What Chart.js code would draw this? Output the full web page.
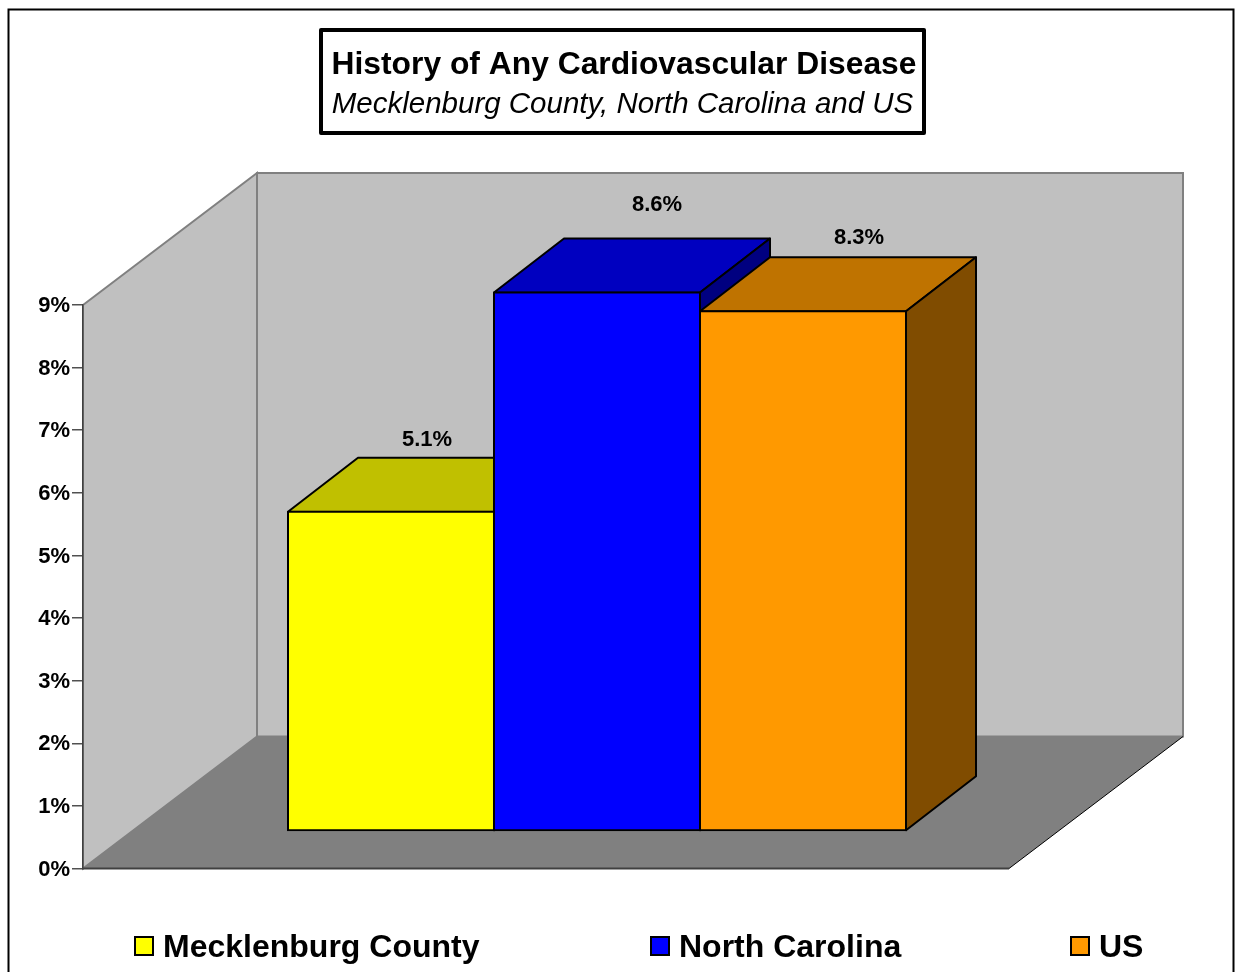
<!DOCTYPE html>
<html>
<head>
<meta charset="utf-8">
<title>History of Any Cardiovascular Disease</title>
<script src="https://cdn.jsdelivr.net/npm/chart.js@4/dist/chart.umd.js"></script>
<style>
  html, body { margin: 0; padding: 0; background: #fff; overflow: hidden; }
  #wrap { position: relative; width: 1236px; height: 972px; }
</style>
</head>
<body>
<div id="wrap"><canvas id="cvdChart" width="1236" height="972"></canvas></div>
<script>
// data
const categories = ['History of any CVD'];
const seriesNames = ['Mecklenburg County', 'North Carolina', 'US'];
const seriesValues = [5.1, 8.6, 8.3];
const seriesColors = ['#FFFF00', '#0000FF', '#FF9900'];
const topColors = ['#C0C000', '#0000C0', '#BF7300'];
const sideColors = ['#808000', '#000080', '#804C00'];
const yTicks = [0, 1, 2, 3, 4, 5, 6, 7, 8, 9];

const FONT = '"Liberation Sans", Arial, sans-serif';
const wallDepth = { x: 174, y: -132 };
const barShift = { x: 51, y: -37.5 };
const barDepth = { x: 70, y: -54 };
const labelShift = [{ x: 36, y: -72 }, { x: 60, y: -88 }, { x: 56, y: -73 }];

function poly(ctx, pts, fill, stroke, lw) {
    ctx.beginPath();
    pts.forEach((p, i) => i ? ctx.lineTo(p[0], p[1]) : ctx.moveTo(p[0], p[1]));
    ctx.closePath();
    if (fill) { ctx.fillStyle = fill; ctx.fill(); }
    if (stroke) { ctx.strokeStyle = stroke; ctx.lineWidth = lw; ctx.stroke(); }
}

// walls, floor and outer frame go behind the bars
const backdrop = {
    id: 'backdrop',
    beforeDatasetsDraw(chart) {
        const { ctx, chartArea: a } = chart;
        const dx = wallDepth.x, dy = wallDepth.y;
        ctx.save();
        poly(ctx, [[a.left + dx, a.top + dy], [a.right + dx, a.top + dy], [a.right + dx, a.bottom + dy], [a.left + dx, a.bottom + dy]], '#C0C0C0', '#808080', 2);
        poly(ctx, [[a.left, a.top], [a.left + dx, a.top + dy], [a.left + dx, a.bottom + dy], [a.left, a.bottom]], '#C0C0C0', '#808080', 2);
        poly(ctx, [[a.left, a.bottom], [a.left + dx, a.bottom + dy], [a.right + dx, a.bottom + dy], [a.right, a.bottom]], '#808080');
        ctx.strokeStyle = '#404040';
        ctx.lineWidth = 2;
        ctx.beginPath();
        ctx.moveTo(a.left, a.bottom);
        ctx.lineTo(a.right, a.bottom);
        ctx.stroke();
        ctx.strokeStyle = '#000';
        ctx.lineWidth = 1;
        ctx.beginPath();
        ctx.moveTo(a.right, a.bottom);
        ctx.lineTo(a.right + dx, a.bottom + dy);
        ctx.stroke();
        ctx.lineWidth = 2;
        ctx.strokeRect(8.5, 9.5, 1225, 1000);
        ctx.restore();
    }
};

// the tops and sides of the bars come from the bar elements themselves,
// the fronts are then drawn by the library, moved forward on the floor
const bars3d = {
    id: 'bars3d',
    beforeDatasetsDraw(chart) {
        const { ctx } = chart;
        const dx = barDepth.x, dy = barDepth.y;
        ctx.save();
        ctx.translate(barShift.x, barShift.y);
        ctx.lineJoin = 'round';
        chart.data.datasets.forEach((ds, i) => {
            const b = chart.getDatasetMeta(i).data[0];
            const l = b.x - b.width / 2, r = b.x + b.width / 2;
            poly(ctx, [[l, b.y], [l + dx, b.y + dy], [r + dx, b.y + dy], [r, b.y]], topColors[i], '#000', 2);
            poly(ctx, [[r, b.y], [r + dx, b.y + dy], [r + dx, b.base + dy], [r, b.base]], sideColors[i], '#000', 2);
        });
        ctx.restore();
        ctx.save();
        ctx.translate(barShift.x, barShift.y);
    },
    afterDatasetsDraw(chart) {
        const { ctx } = chart;
        ctx.restore();
        ctx.save();
        ctx.font = 'bold 22px ' + FONT;
        ctx.fillStyle = '#000';
        ctx.textAlign = 'center';
        ctx.textBaseline = 'middle';
        chart.data.datasets.forEach((ds, i) => {
            const b = chart.getDatasetMeta(i).data[0];
            ctx.fillText(ds.data[0].toFixed(1) + '%', b.x + barShift.x + labelShift[i].x, b.y + barShift.y + labelShift[i].y);
        });
        ctx.restore();
    }
};

const titleBox = {
    id: 'titleBox',
    afterDraw(chart) {
        const { ctx } = chart;
        ctx.save();
        ctx.lineJoin = 'round';
        ctx.strokeStyle = '#000';
        ctx.lineWidth = 4;
        ctx.strokeRect(321, 30, 603, 103);
        ctx.fillStyle = '#000';
        ctx.textAlign = 'center';
        ctx.textBaseline = 'middle';
        ctx.font = 'bold 31.8px ' + FONT;
        ctx.fillText('History of Any Cardiovascular Disease', 624, 65);
        ctx.font = 'italic 29.5px ' + FONT;
        ctx.fillText('Mecklenburg County, North Carolina and US', 622.5, 105);
        ctx.restore();
    }
};

const legendRow = {
    id: 'legendRow',
    afterDraw(chart) {
        const { ctx } = chart;
        const boxes = [135, 651, 1071];
        ctx.save();
        ctx.font = 'bold 32px ' + FONT;
        ctx.textBaseline = 'middle';
        seriesNames.forEach((name, i) => {
            ctx.fillStyle = seriesColors[i];
            ctx.fillRect(boxes[i], 937, 18, 18);
            ctx.strokeStyle = '#000';
            ctx.lineWidth = 2;
            ctx.strokeRect(boxes[i], 937, 18, 18);
            ctx.fillStyle = '#000';
            ctx.fillText(name, boxes[i] + 28, 948);
        });
        ctx.restore();
    }
};

new Chart(document.getElementById('cvdChart').getContext('2d'), {
    type: 'bar',
    data: {
        labels: categories,
        datasets: seriesNames.map((name, i) => ({
            label: name,
            data: [seriesValues[i]],
            backgroundColor: seriesColors[i],
            borderColor: '#000',
            borderWidth: 2,
            borderSkipped: false,
            inflateAmount: 1,
            clip: false,
            barPercentage: 1,
            categoryPercentage: 0.6674
        }))
    },
    options: {
        responsive: false,
        animation: false,
        layout: { padding: { left: 0, top: 305, right: 227, bottom: 103.5 } },
        plugins: { legend: { display: false }, title: { display: false }, tooltip: { enabled: false } },
        scales: {
            x: { display: false },
            y: {
                min: 0,
                max: 9,
                afterFit(scale) { scale.width = 83; },
                afterBuildTicks(scale) { scale.ticks = yTicks.map(v => ({ value: v })); },
                grid: { drawOnChartArea: false, drawTicks: true, tickLength: 11, color: '#505050', lineWidth: 1.5 },
                border: { color: '#404040', width: 1.5, z: 1 },
                ticks: {
                    padding: 2,
                    labelOffset: 1,
                    color: '#000',
                    font: { family: FONT, size: 22, weight: 'bold' },
                    callback: v => v + '%'
                }
            }
        }
    },
    plugins: [backdrop, bars3d, titleBox, legendRow]
});
</script>
</body>
</html>
